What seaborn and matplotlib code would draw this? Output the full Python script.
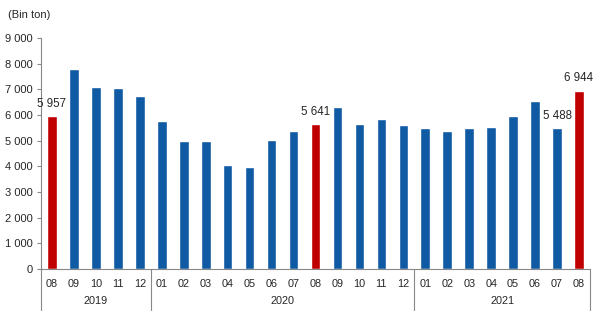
import matplotlib
matplotlib.use("Agg")
import matplotlib.pyplot as plt
import matplotlib.transforms as mtransforms
import seaborn as sns
import pandas as pd

months = ["08", "09", "10", "11", "12",
          "01", "02", "03", "04", "05", "06", "07", "08", "09", "10", "11", "12",
          "01", "02", "03", "04", "05", "06", "07", "08"]
years = ["2019", "2020", "2021"]
year_counts = [5, 12, 8]
values = [5957, 7790, 7080, 7040, 6740,
          5766, 4986, 4990, 4050, 3970, 5025, 5376, 5641, 6300, 5650, 5843, 5610,
          5493, 5376, 5493, 5532, 5960, 6545, 5488, 6944]
highlight = [True, False, False, False, False,
             False, False, False, False, False, False, False, True, False, False, False, False,
             False, False, False, False, False, False, False, True]
labels_shown = {0: "5 957", 12: "5 641", 23: "5 488", 24: "6 944"}

sns.set_theme(style="white")
plt.rcParams["font.family"] = ["Liberation Sans", "DejaVu Sans"]

df = pd.DataFrame({"pos": range(len(values)), "value": values,
                   "kind": ["h" if h else "n" for h in highlight]})

fig = plt.figure(figsize=(5.96, 3.17), dpi=100)
ax = fig.add_axes([41/596, 1-269/317, (590-41)/596, (269-38)/317])

sns.barplot(data=df, x="pos", y="value", hue="kind",
            palette={"n": "#0F5AA3", "h": "#C00000"}, dodge=False,
            width=0.44, legend=False, ax=ax, saturation=1)

ax.set_ylim(0, 9000)
ax.set_xlim(-0.5, len(values) - 0.5)
ax.set_yticks(range(0, 9001, 1000))
ax.set_yticklabels([f"{v:,}".replace(",", " ") for v in range(0, 9001, 1000)], fontsize=8)
ax.set_xticks(range(len(values)))
ax.set_xticklabels(months, fontsize=7.8)
ax.tick_params(axis="x", length=0, pad=7)
ax.tick_params(axis="y", length=3, width=0.8, color="#888888", pad=3, left=True)
ax.set_xlabel("")
ax.set_ylabel("")
for s in ["top", "right"]:
    ax.spines[s].set_visible(False)
for s in ["left", "bottom"]:
    ax.spines[s].set_color("#888888")
    ax.spines[s].set_linewidth(0.8)

for i, txt in labels_shown.items():
    ax.text(i, values[i] + 250, txt, ha="center", va="bottom", fontsize=8.3)

trans = mtransforms.blended_transform_factory(ax.transData, ax.transAxes)
bottom_line = -(310 - 269) / (269 - 38)
start = -0.5
bounds = [start]
for c in year_counts:
    bounds.append(bounds[-1] + c)
for b in bounds:
    ax.plot([b, b], [0, bottom_line], transform=trans, color="#888888", lw=0.8, clip_on=False)
for y, a, b in zip(years, bounds[:-1], bounds[1:]):
    ax.text((a + b) / 2, -(301 - 269) / (269 - 38), y, transform=trans,
            ha="center", va="center", fontsize=7.8)

fig.text(8/596, 1-15/317, "(Bin ton)", fontsize=8, ha="left", va="center")

fig.savefig("out.png", dpi=100)
